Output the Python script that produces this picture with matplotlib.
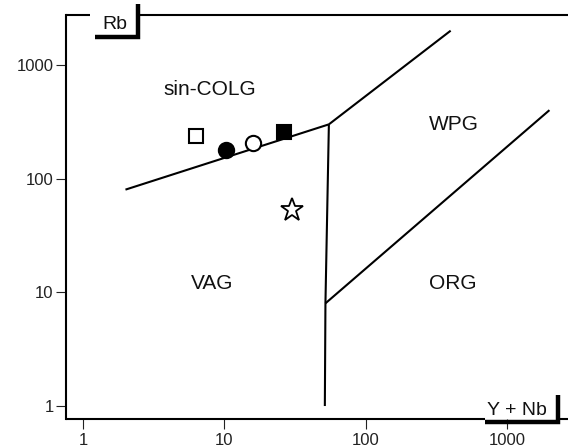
import matplotlib
matplotlib.use("Agg")
import matplotlib.pyplot as plt
from matplotlib.lines import Line2D

plt.rcParams['font.family'] = ['Liberation Sans', 'DejaVu Sans']

# --- Data ---------------------------------------------------------------
# field boundaries (Y+Nb, Rb)
colg_vag_x = [2, 55]
colg_vag_y = [80, 300]
colg_wpg_x = [55, 400]
colg_wpg_y = [300, 2000]
vag_wpg_x = [55, 52, 51.5]
vag_wpg_y = [300, 8, 1]
wpg_org_x = [52, 2000]
wpg_org_y = [8, 400]

# samples
open_square = ([6.3], [237])
filled_circle = ([10.3], [178])
open_circle = ([16.0], [206])
filled_square = ([26.5], [257])
open_star = ([30.1], [53])

x_ticks = [1, 10, 100, 1000]
x_tick_labels = ["1", "10", "100", "1000"]
y_ticks = [1, 10, 100, 1000]
y_tick_labels = ["1", "10", "100", "1000"]

fields = ["sin-COLG", "VAG", "WPG", "ORG"]
field_x = [7.9, 8.25, 423, 415]
field_y = [544, 10.6, 267, 10.6]

# --- Figure -------------------------------------------------------------
W, H = 568, 445
fig = plt.figure(figsize=(W / 100, H / 100), dpi=100)
ax = fig.add_axes([66 / W, (H - 419) / H, (W - 66) / W, (419 - 15) / H])
ax.set_xscale('log')
ax.set_yscale('log')
ax.set_xlim(0.759, 2706)
ax.set_ylim(0.769, 2747)

for s in ['top', 'right', 'bottom']:
    ax.spines[s].set_visible(False)
ax.spines['left'].set_linewidth(1.5)

ax.set_xticks(x_ticks)
ax.set_xticklabels(x_tick_labels)
ax.set_yticks(y_ticks)
ax.set_yticklabels(y_tick_labels)
ax.minorticks_off()
ax.tick_params(axis='both', direction='out', length=7, width=0.8,
               labelsize=12, colors='#222222')
ax.tick_params(axis='x', pad=3)
ax.tick_params(axis='y', pad=2)

lw = 1.5
for xs, ys in [(colg_vag_x, colg_vag_y), (colg_wpg_x, colg_wpg_y),
               (vag_wpg_x, vag_wpg_y), (wpg_org_x, wpg_org_y)]:
    ax.plot(xs, ys, color='black', lw=lw, solid_capstyle='butt')

ax.plot(*open_square, 's', ms=10, mfc='white', mec='black', mew=1.5)
ax.plot(*filled_circle, 'o', ms=11, mfc='black', mec='black', mew=1.5)
ax.plot(*open_circle, 'o', ms=11, mfc='white', mec='black', mew=1.5)
ax.plot(*filled_square, 's', ms=10, mfc='black', mec='black', mew=1.5)
ax.plot(*open_star, '*', ms=17, mfc='white', mec='black', mew=1.3)

for name, fx, fy in zip(fields, field_x, field_y):
    ax.text(fx, fy, name, ha='center', va='baseline', fontsize=15, color='#111111')


# --- decorative frame in pixel coordinates -----------------------------
def px(x, y):
    return x / W, 1 - y / H


def seg(pts, width):
    xs = [px(*p)[0] for p in pts]
    ys = [px(*p)[1] for p in pts]
    fig.add_artist(Line2D(xs, ys, transform=fig.transFigure, color='black',
                          lw=width, solid_capstyle='butt', solid_joinstyle='miter'))


seg([(66, 15), (90, 15)], 1.5)
seg([(138, 15), (568, 15)], 1.5)
seg([(95, 37), (138, 37), (138, 4)], 3.2)
seg([(66, 419), (485, 419)], 1.5)
seg([(485, 422), (558, 422), (558, 395)], 3.2)
seg([(558, 419), (568, 419)], 1.5)

fig.text(*px(115, 29), "Rb", ha='center', va='baseline', fontsize=14, color='#111111')
fig.text(*px(517, 415), "Y + Nb", ha='center', va='baseline', fontsize=14, color='#111111')

fig.savefig("out.png", dpi=100)
